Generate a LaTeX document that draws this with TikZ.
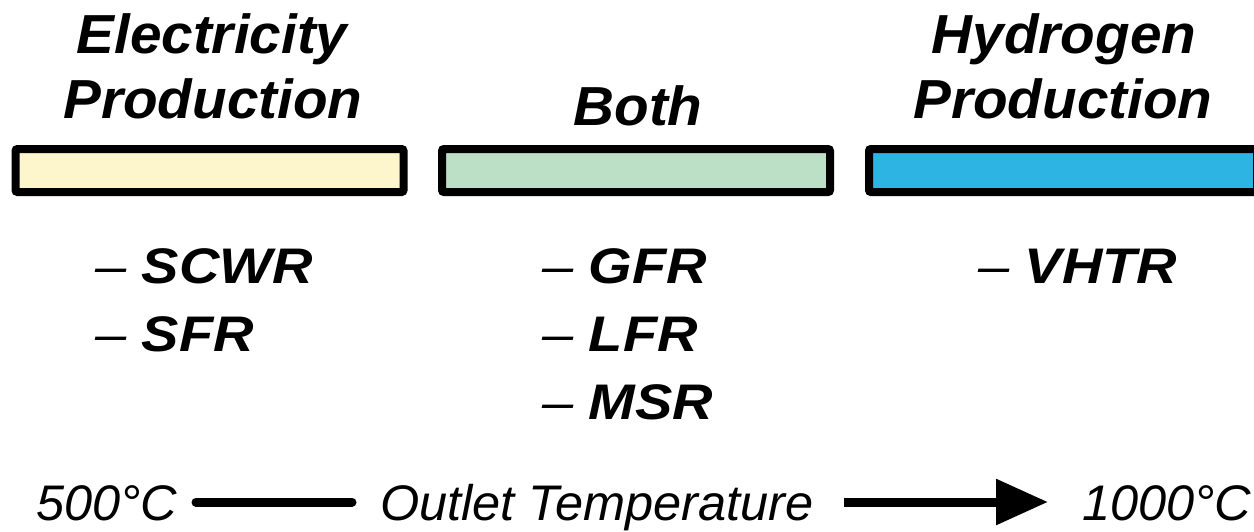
\documentclass[tikz,border=0pt]{standalone}
\usepackage{fontspec}
\setmainfont{Liberation Sans}
\usetikzlibrary{arrows.meta}
\definecolor{barY}{HTML}{FDF5CB}
\definecolor{barG}{HTML}{BCE0C5}
\definecolor{barB}{HTML}{2DB4E2}
\newcommand{\idash}{{\mdseries –}}
\begin{document}
\begin{tikzpicture}[x=1pt,y=-1pt,
  bar/.style={draw=black,line width=8pt,rounded corners=2pt,minimum width=388pt,minimum height=43pt,inner sep=0pt},
  head/.style={font=\fontsize{55}{65}\selectfont\bfseries\itshape,align=center,inner sep=0pt,xscale=1.03},
  item/.style={font=\fontsize{50}{60}\selectfont\bfseries\itshape,anchor=base west,inner sep=0pt,xscale=1.12},
  axis/.style={font=\fontsize{50}{60}\selectfont\itshape,anchor=base west,inner sep=0pt,xscale=1.01},
  conn/.style={line width=9pt}]
\useasboundingbox (0,0) rectangle (1254,531);
% bars
\node[bar,fill=barY] (b1) at (209.5,170.5) {};
\node[bar,fill=barG] (b2) at (636,170.5) {};
\node[bar,fill=barB] (b3) at (1063,170.5) {};
% headings
\node[head,anchor=base] (h1a) at (212,53) {Electricity};
\node[head,anchor=base] (h1b) at (213,118) {Production};
\node[head,anchor=base] (h2) at (638,125) {Both};
\node[head,anchor=base] (h3a) at (1064,53) {Hydrogen};
\node[head,anchor=base] (h3b) at (1063,118) {Production};
% items
\node[item] (i1) at (95,283) {\idash{} SCWR};
\node[item] (i2) at (95,351) {\idash{} SFR};
\node[item] (i3) at (542,283) {\idash{} GFR};
\node[item] (i4) at (542,351) {\idash{} LFR};
\node[item] (i5) at (542,419) {\idash{} MSR};
\node[item] (i6) at (978,283) {\idash{} VHTR};
% axis
\node[axis] (t1) at (36,520) {500°C};
\node[axis] (t2) at (380,520) {Outlet Temperature};
\node[axis] (t3) at (1082,520) {1000°C};
\coordinate (a1) at (196,502);
\coordinate (a2) at (352,502);
\coordinate (a3) at (844,502);
\coordinate (a4) at (1048,502);
\draw[conn,line cap=round] (a1) -- (a2);
\draw[conn,-{Triangle[length=52pt,width=44pt]}] (a3) -- (a4);
\end{tikzpicture}
\end{document}
